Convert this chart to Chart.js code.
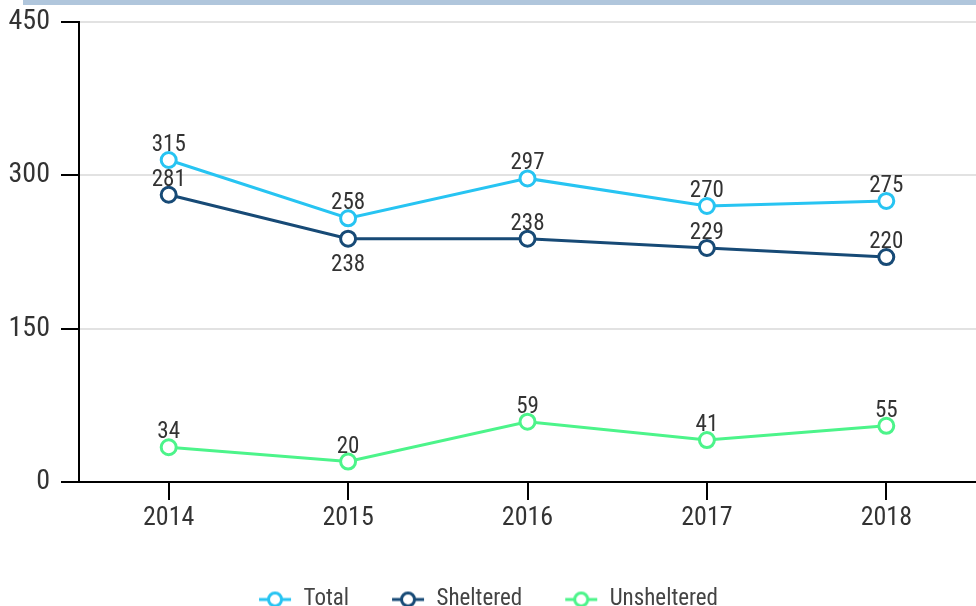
<!DOCTYPE html>
<html>
<head>
<meta charset="utf-8">
<script src="https://cdn.jsdelivr.net/npm/chart.js@4/dist/chart.umd.min.js"></script>
<style>
  html, body { margin: 0; padding: 0; background: #fff; overflow: hidden; }
  #wrap { width: 976px; height: 606px; position: relative; }
</style>
</head>
<body>
<div id="wrap"><canvas id="chart"></canvas></div>
<script>
const years = ['2014', '2015', '2016', '2017', '2018'];
const totalCounts = [315, 258, 297, 270, 275];
const shelteredCounts = [281, 238, 238, 229, 220];
const unshelteredCounts = [34, 20, 59, 41, 55];
const yTicks = [0, 150, 300, 450];

const FONT = "'Roboto Condensed', 'Liberation Sans Narrow', 'Arial Narrow', Roboto, sans-serif";
const TEXT = '#333333';

// Legend marker: short line with a hollow circle in the middle
function legendMarker(color) {
  const c = document.createElement('canvas');
  c.width = 34; c.height = 20;
  const g = c.getContext('2d');
  g.strokeStyle = color;
  g.lineWidth = 3;
  g.beginPath(); g.moveTo(1, 10); g.lineTo(33, 10); g.stroke();
  g.fillStyle = '#fff';
  g.beginPath(); g.arc(17, 10, 6.5, 0, Math.PI * 2); g.fill(); g.stroke();
  return c;
}

function series(label, data, color, labelAlign) {
  return {
    label, data,
    borderColor: color,
    backgroundColor: '#fff',
    borderWidth: 3,
    pointRadius: 7.5,
    pointHoverRadius: 7.5,
    pointBorderWidth: 3,
    pointBackgroundColor: '#fff',
    pointBorderColor: color,
    pointStyle: 'circle',
    tension: 0,
    labelAlign,
    legendMarker: legendMarker(color)
  };
}

// Value labels above (or below) each point
const valueLabels = {
  id: 'valueLabels',
  afterDatasetsDraw(chart) {
    const ctx = chart.ctx;
    ctx.save();
    ctx.font = '23px ' + FONT;
    ctx.fillStyle = TEXT;
    ctx.textAlign = 'center';
    ctx.textBaseline = 'alphabetic';
    chart.data.datasets.forEach((ds, i) => {
      const meta = chart.getDatasetMeta(i);
      meta.data.forEach((pt, j) => {
        const below = ds.labelAlign && ds.labelAlign[j] === 'below';
        const y = below ? pt.y + 32 : pt.y - 9;
        ctx.fillText(String(ds.data[j]), pt.x, y);
      });
    });
    ctx.restore();
  }
};

// Thin band across the top of the figure
const topBand = {
  id: 'topBand',
  beforeDraw(chart) {
    const ctx = chart.ctx;
    ctx.save();
    ctx.fillStyle = '#b0c6dc';
    ctx.fillRect(23, 0, chart.width - 23, 5);
    ctx.restore();
  }
};

// Axis labels may overhang the plot edges without shrinking it
function noEdgePadding(scale) {
  scale.paddingLeft = 0; scale.paddingRight = 0;
  scale.paddingTop = 0; scale.paddingBottom = 0;
  scale.getPadding = () => ({ left: 0, right: 0, top: 0, bottom: 0 });
}

new Chart(document.getElementById('chart'), {
  type: 'line',
  data: {
    labels: years,
    datasets: [
      series('Total', totalCounts, '#27c4f2', null),
      series('Sheltered', shelteredCounts, '#174a76', ['above', 'below', 'above', 'above', 'above']),
      series('Unsheltered', unshelteredCounts, '#4cf48a', null)
    ]
  },
  options: {
    responsive: true,
    maintainAspectRatio: false,
    animation: false,
    events: [],
    layout: { autoPadding: false, padding: { top: 22, right: 0, left: 0, bottom: -15 } },
    plugins: {
      tooltip: { enabled: false },
      legend: {
        position: 'bottom',
        labels: {
          usePointStyle: true,
          pointStyleWidth: 34,
          boxHeight: 23,
          padding: 42,
          color: '#444',
          font: { family: FONT, size: 23 },
          generateLabels(chart) {
            return chart.data.datasets.map((ds, i) => ({
              text: ds.label,
              fillStyle: '#fff',
              strokeStyle: ds.borderColor,
              lineWidth: 0,
              pointStyle: ds.legendMarker,
              hidden: false,
              datasetIndex: i,
              fontColor: '#444'
            }));
          }
        }
      }
    },
    scales: {
      x: {
        offset: true,
        border: { display: true, color: '#000', width: 2 },
        grid: { display: true, drawOnChartArea: false, drawTicks: true, tickLength: 18, tickColor: '#000', lineWidth: 2, offset: false },
        ticks: { color: TEXT, font: { family: FONT, size: 26 }, padding: 3 },
        afterFit(scale) { scale.height = 64; noEdgePadding(scale); }
      },
      y: {
        min: 0, max: 450,
        afterBuildTicks(scale) { scale.ticks = yTicks.map(v => ({ value: v })); },
        border: { display: true, color: '#000', width: 2 },
        grid: { color: '#e2e2e2', lineWidth: 2, tickLength: 18, tickColor: '#000', drawTicks: true },
        ticks: { color: TEXT, font: { family: FONT, size: 28 }, padding: 11 },
        afterFit(scale) { scale.width = 79; noEdgePadding(scale); }
      }
    }
  },
  plugins: [topBand, valueLabels]
});
</script>
</body>
</html>
